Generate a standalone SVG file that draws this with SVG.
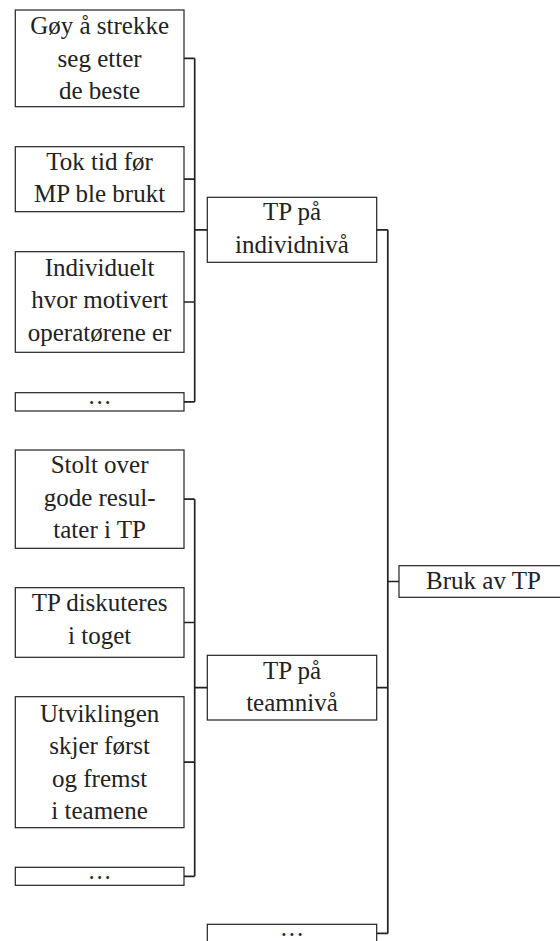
<svg xmlns="http://www.w3.org/2000/svg" width="560" height="941" viewBox="0 0 560 941">
<style>
.box{fill:#fff;stroke:#222;stroke-width:1.2}
.t{font-family:'Liberation Serif','Times New Roman',Tinos,'DejaVu Serif','Noto Serif',serif;font-size:25px;fill:#222;text-anchor:middle}
.d{font-family:'Liberation Serif','Times New Roman',Tinos,'DejaVu Serif','Noto Serif',serif;font-size:25px;fill:#222;text-anchor:middle;letter-spacing:1.8px}
.c{fill:none;stroke:#222;stroke-width:1.7}
</style>
<rect width="560" height="941" fill="#fff"/>
<g id="connectors">
<path class="c" d="M184 58.4H194.7M184 179.2H194.7M184 302H194.7M184 401.8H194.7M194.7 58.4V401.8M194.7 229.8H207.3"/>
<path class="c" d="M184 499.2H194.7M184 622.5H194.7M184 762.2H194.7M184 876.3H194.7M194.7 499.2V876.3M194.7 687.7H207.3"/>
<path class="c" d="M376.7 229.8H387.8M376.7 687.7H387.8M376.7 933.4H387.8M387.8 229.8V933.4M387.8 581.5H399"/>
</g>
<g id="a1" font-family="Liberation Serif, serif"><rect class="box" x="15.3" y="10" width="168.7" height="96.7"/><text class="t" x="99.6" y="34">Gøy å strekke</text><text class="t" x="99.6" y="66.5">seg etter</text><text class="t" x="99.6" y="99">de beste</text></g>
<g id="a2"><rect class="box" x="15.3" y="146.7" width="168.7" height="65"/><text class="t" x="99.6" y="169.5">Tok tid før</text><text class="t" x="99.6" y="202">MP ble brukt</text></g>
<g id="a3"><rect class="box" x="15.3" y="251.7" width="168.7" height="100.6"/><text class="t" x="99.6" y="275.5">Individuelt</text><text class="t" x="99.6" y="308">hvor motivert</text><text class="t" x="99.6" y="340.5">operatørene er</text></g>
<g id="a4"><rect class="box" x="15.3" y="392.7" width="168.7" height="18.3"/><text class="d" x="100.5" y="404">...</text></g>
<g id="b1"><rect class="box" x="15.3" y="450" width="168.7" height="98.3"/><text class="t" x="99.6" y="473">Stolt over</text><text class="t" x="99.6" y="505.5">gode resul-</text><text class="t" x="99.6" y="538">tater i TP</text></g>
<g id="b2"><rect class="box" x="15.3" y="587.7" width="168.7" height="69.6"/><text class="t" x="99.6" y="611">TP diskuteres</text><text class="t" x="99.6" y="643.5">i toget</text></g>
<g id="b3"><rect class="box" x="15.3" y="696.7" width="168.7" height="131"/><text class="t" x="99.6" y="721.5">Utviklingen</text><text class="t" x="99.6" y="754">skjer først</text><text class="t" x="99.6" y="786.5">og fremst</text><text class="t" x="99.6" y="819">i teamene</text></g>
<g id="b4"><rect class="box" x="15.3" y="867.3" width="168.7" height="18"/><text class="d" x="100.5" y="878.5">...</text></g>
<g id="m1"><rect class="box" x="207.3" y="197.3" width="169.4" height="65"/><text class="t" x="292" y="220">TP på</text><text class="t" x="292" y="253">individnivå</text></g>
<g id="m2"><rect class="box" x="207.3" y="655.3" width="169.4" height="64.7"/><text class="t" x="292" y="678.5">TP på</text><text class="t" x="292" y="711">teamnivå</text></g>
<g id="m3"><rect class="box" x="207.3" y="924.3" width="169.4" height="18.3"/><text class="d" x="292.9" y="935.5">...</text></g>
<g id="root"><rect class="box" x="399" y="565.7" width="169" height="31.6"/><text class="t" x="483.5" y="588.5">Bruk av TP</text></g>
</svg>
